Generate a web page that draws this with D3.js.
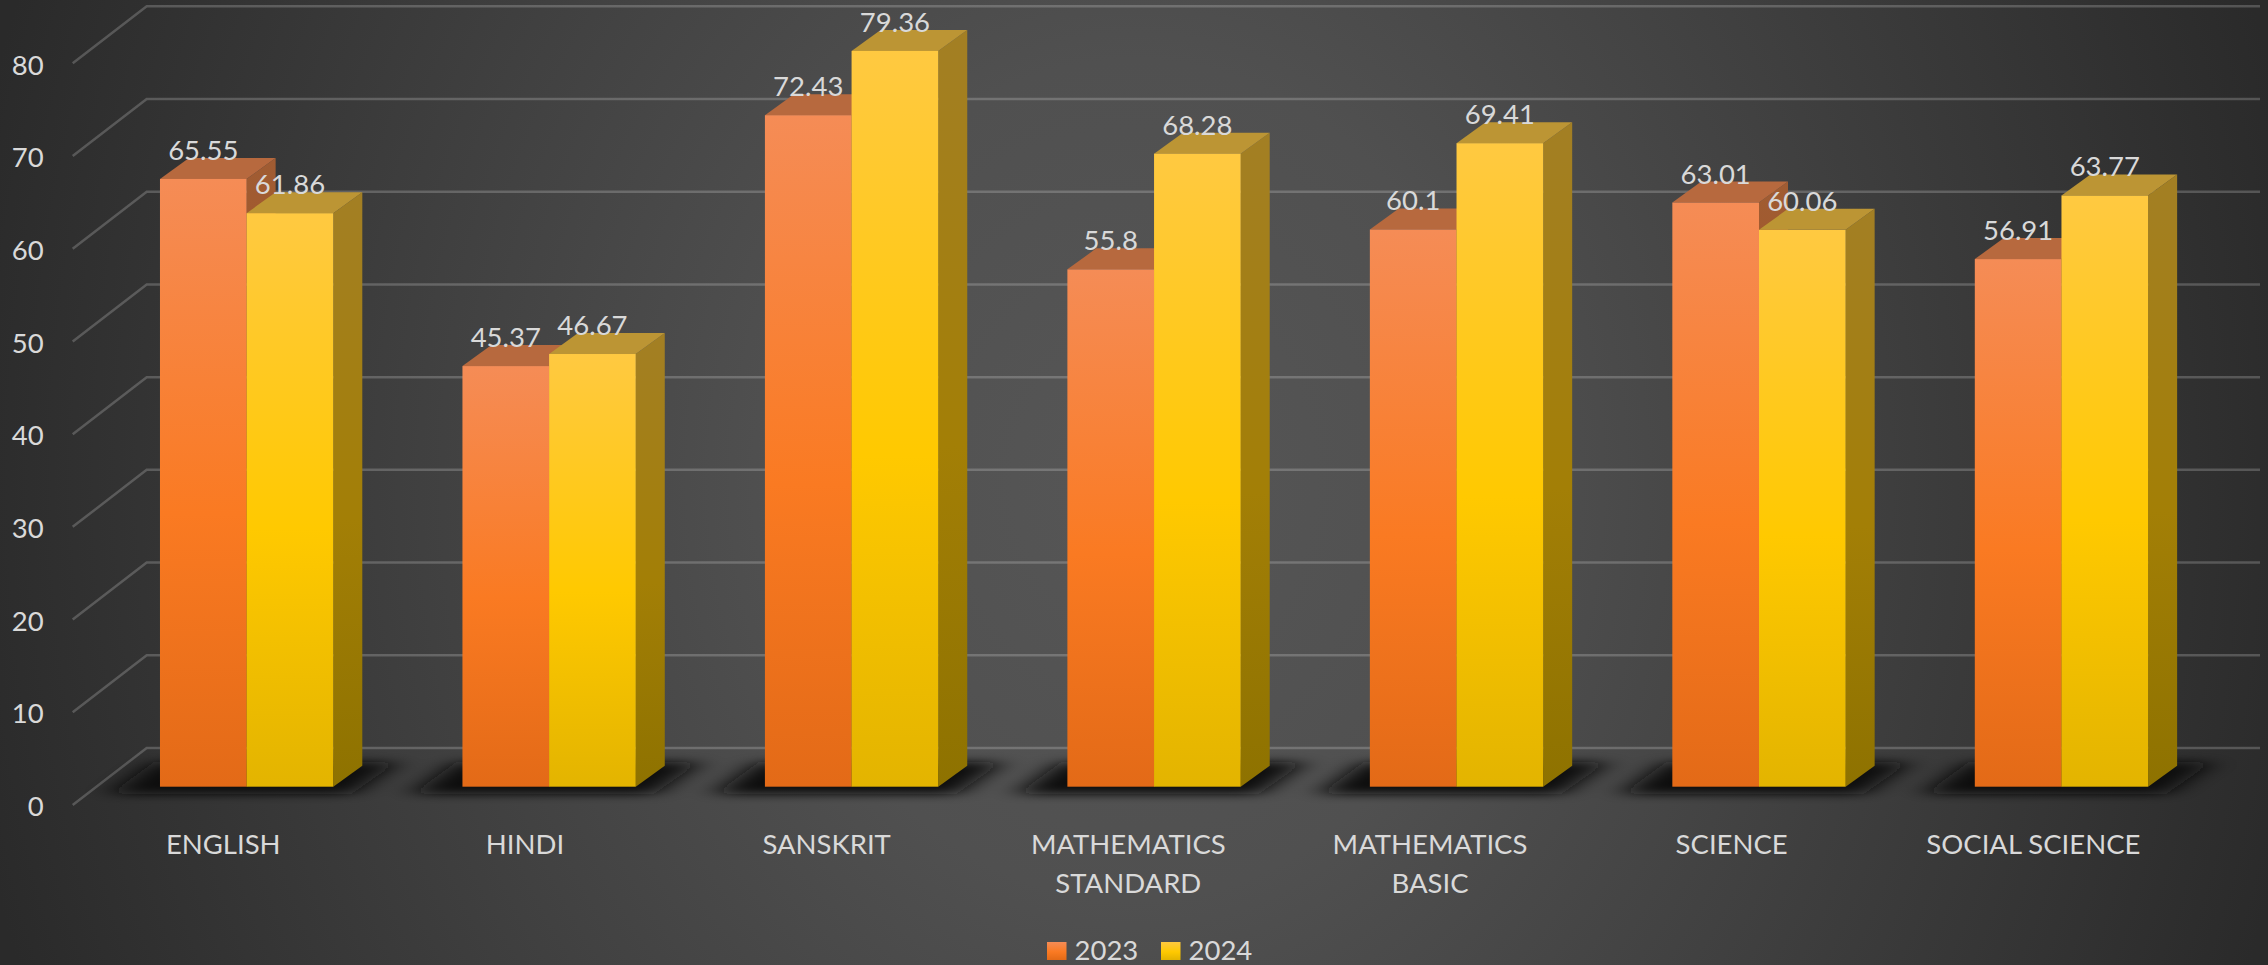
<!DOCTYPE html>
<html>
<head>
<meta charset="utf-8">
<script src="https://cdn.jsdelivr.net/npm/d3@7"></script>
<style>
  html, body { margin: 0; padding: 0; background: #2b2b2b; overflow: hidden; }
  text { font-family: Lato, "Open Sans", sans-serif; fill: #d9d9d9; }
</style>
</head>
<body>
<div id="wrapper"></div>
<script>
const categories = ["ENGLISH", "HINDI", "SANSKRIT", "MATHEMATICS\nSTANDARD", "MATHEMATICS\nBASIC", "SCIENCE", "SOCIAL SCIENCE"]
const values2023 = [65.55, 45.37, 72.43, 55.8, 60.1, 63.01, 56.91]
const values2024 = [61.86, 46.67, 79.36, 68.28, 69.41, 60.06, 63.77]
const seriesNames = ["2023", "2024"]
const yTicks = [0, 10, 20, 30, 40, 50, 60, 70, 80]

function drawChart() {
  const width = 2268
  const height = 965
  const fontSize = 27.5

  // the "3d" box: front plane plus a fixed shift for the back wall
  const depth = { dx: 74, dy: -57 }
  const wallRight = 2260
  const barDepth = { dx: 29, dy: -21 }
  const barFront = { dx: 22.7, dy: -18.3 }

  const svg = d3.select("#wrapper").append("svg")
      .attr("width", width)
      .attr("height", height)
      .style("display", "block")

  const defs = svg.append("defs")

  // wide ellipse, the middle stays light from top to bottom
  const bg = defs.append("radialGradient")
      .attr("id", "bg")
      .attr("gradientUnits", "userSpaceOnUse")
      .attr("cx", 0).attr("cy", 0).attr("r", 1)
      .attr("gradientTransform", "translate(1134 480) scale(1190 1400)")
  bg.append("stop").attr("offset", 0).attr("stop-color", "#565656")
  bg.append("stop").attr("offset", 0.3).attr("stop-color", "#505050")
  bg.append("stop").attr("offset", 0.6).attr("stop-color", "#404040")
  bg.append("stop").attr("offset", 1).attr("stop-color", "#2a2a2a")

  function addGradient(id, stops) {
    const g = defs.append("linearGradient")
        .attr("id", id)
        .attr("x1", 0).attr("y1", 0).attr("x2", 0).attr("y2", 1)
    stops.forEach(s => g.append("stop").attr("offset", s[0]).attr("stop-color", s[1]))
  }
  addGradient("front0", [[0, "#f58c56"], [0.55, "#fa7a22"], [1, "#e36a17"]])
  addGradient("front1", [[0, "#ffc941"], [0.55, "#ffc900"], [1, "#e3b400"]])
  addGradient("side0", [[0, "#a05c33"], [0.55, "#a5531a"], [1, "#93500f"]])
  addGradient("side1", [[0, "#a37f24"], [0.55, "#a37f06"], [1, "#8e7200"]])

  // soft sideways, tighter up and down
  defs.append("filter")
      .attr("id", "blur")
      .attr("x", "-20%").attr("y", "-50%").attr("width", "140%").attr("height", "200%")
    .append("feGaussianBlur")
      .attr("stdDeviation", "15 5")

  const topColors = ["#b7693e", "#bc9534"]

  // 5. scales
  const yScale = d3.scaleLinear()
    .domain([0, 80])
    .range([805, 63.3])

  const xScale = d3.scaleBand()
    .domain(categories)
    .range([72.7, 2190])
    .paddingInner(0.427)
    .paddingOuter(0.2135)

  // the category labels sit on a slightly tighter step than the bars
  const labelScale = d3.scaleBand()
    .domain(categories)
    .range([72.4, 2184.2])

  const barWidth = xScale.bandwidth() / 2
  const polygon = d3.line()

  svg.append("rect")
      .attr("width", width)
      .attr("height", height)
      .attr("fill", "url(#bg)")

  // gridlines, side wall then back wall
  const grid = svg.append("g")
      .attr("fill", "none")
      .attr("stroke", "#fff")
      .attr("stroke-opacity", 0.2)
      .attr("stroke-width", 2.5)

  grid.selectAll("path")
    .data(yTicks)
    .join("path")
      .attr("d", d => polygon([
        [72.7, yScale(d)],
        [72.7 + depth.dx, yScale(d) + depth.dy],
        [wallRight, yScale(d) + depth.dy],
      ]))

  // shadows on the floor
  svg.append("g")
      .attr("filter", "url(#blur)")
    .selectAll("path")
    .data(categories)
    .join("path")
      .attr("fill", "#0c0c0c")
      .attr("d", d => {
        const x0 = xScale(d) + barFront.dx
        const w = xScale.bandwidth()
        const y0 = yScale(0)
        return polygon([
          [x0 - 50, y0 - 11],
          [x0 - 6, y0 - 43],
          [x0 + w + 64, y0 - 43],
          [x0 + w + 18, y0 - 11],
        ]) + "Z"
      })

  // bars: 2023 first so that the 2024 bar sits in front of its side face
  const series = [values2023, values2024]
  const bars = svg.append("g")

  categories.forEach((category, i) => {
    series.forEach((values, s) => {
      const x0 = xScale(category) + barFront.dx + s * barWidth
      const x1 = x0 + barWidth
      const yTop = yScale(values[i]) + barFront.dy
      const yBase = yScale(0) + barFront.dy
      const bar = bars.append("g")

      bar.append("path")
          .attr("fill", `url(#side${s})`)
          .attr("d", polygon([
            [x1, yTop],
            [x1 + barDepth.dx, yTop + barDepth.dy],
            [x1 + barDepth.dx, yBase + barDepth.dy],
            [x1, yBase],
          ]) + "Z")

      bar.append("path")
          .attr("fill", topColors[s])
          .attr("d", polygon([
            [x0, yTop],
            [x0 + barDepth.dx, yTop + barDepth.dy],
            [x1 + barDepth.dx, yTop + barDepth.dy],
            [x1, yTop],
          ]) + "Z")

      bar.append("rect")
          .attr("x", x0)
          .attr("y", yTop)
          .attr("width", barWidth)
          .attr("height", yBase - yTop)
          .attr("fill", `url(#front${s})`)
    })
  })

  // value labels on top of everything
  const labels = svg.append("g")
      .attr("text-anchor", "middle")
      .style("font-size", fontSize + "px")

  categories.forEach((category, i) => {
    series.forEach((values, s) => {
      labels.append("text")
          .attr("x", xScale(category) + barFront.dx + (s + 0.5) * barWidth)
          .attr("y", yScale(values[i]) + barFront.dy - 19)
          .text(values[i])
    })
  })

  // 6. axes
  const yAxis = svg.append("g")
      .attr("transform", "translate(43.7, 0)")
      .call(d3.axisLeft(yScale).tickValues(yTicks).tickSize(0).tickPadding(0))
  yAxis.select(".domain").remove()
  yAxis.selectAll("text")
      .attr("dy", 10.7)
      .style("font-family", "Lato")
      .style("font-size", fontSize + "px")

  const xAxis = svg.append("g")
      .attr("transform", "translate(0, 854)")
      .call(d3.axisBottom(labelScale).tickSize(0).tickPadding(0).tickFormat(""))
  xAxis.select(".domain").remove()
  xAxis.selectAll("text")
      .attr("y", 0)
      .attr("dy", 0)
      .style("font-family", "Lato")
      .style("font-size", fontSize + "px")
      .each(function (d) {
        const label = d3.select(this)
        d.split("\n").forEach((line, i) => {
          label.append("tspan")
              .attr("x", 0)
              .attr("y", i * 39)
              .text(line)
        })
      })

  // legend
  const legendX = [1047, 1161]
  const legend = svg.append("g")
      .selectAll("g")
      .data(seriesNames)
      .join("g")
      .attr("transform", (d, i) => `translate(${legendX[i]}, 942)`)
  legend.append("rect")
      .attr("width", 19.5)
      .attr("height", 18)
      .attr("fill", (d, i) => `url(#front${i})`)
  legend.append("text")
      .attr("x", 27.5)
      .attr("y", 18)
      .style("font-size", fontSize + "px")
      .text(d => d)
}

drawChart()
</script>
</body>
</html>
